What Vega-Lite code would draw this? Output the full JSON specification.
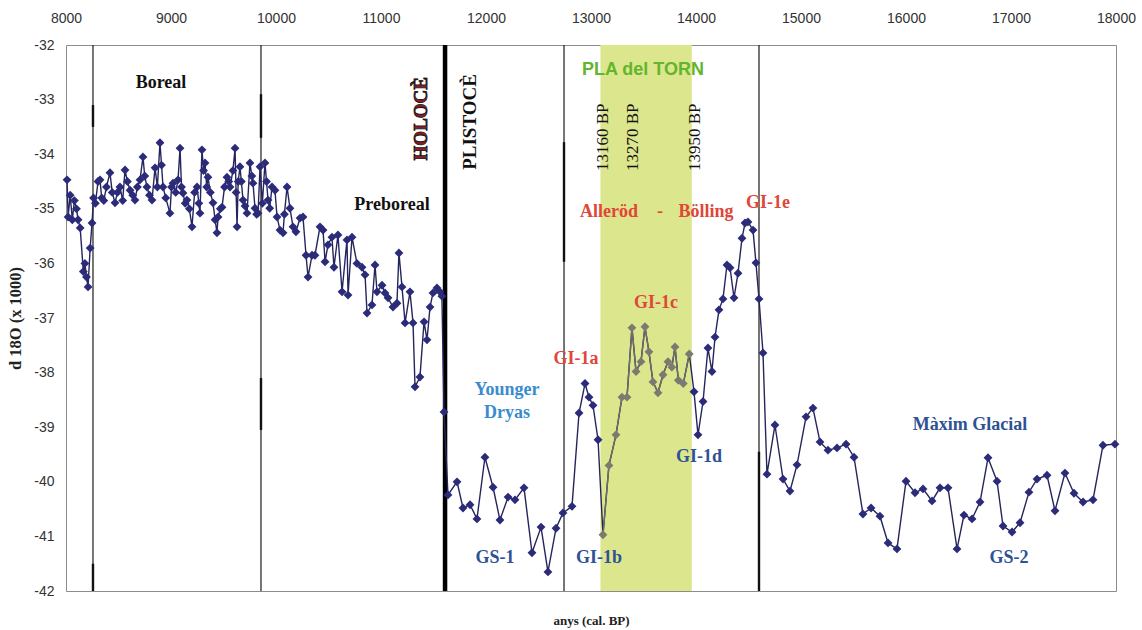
{
  "$schema": "https://vega.github.io/schema/vega-lite/v6.json",
  "width": 1050,
  "height": 546,
  "autosize": {"type": "none"},
  "padding": {"left": 66, "top": 45, "right": 26, "bottom": 39},
  "background": "white",
  "config": {
    "view": {"stroke": "#8c8c8c", "strokeWidth": 1},
    "axis": {
      "labelFont": "Liberation Sans", "labelFontSize": 14, "labelColor": "#333",
      "ticks": false, "tickSize": 0, "domain": false, "grid": false,
      "titleFont": "Liberation Serif", "titleFontWeight": "bold", "titleColor": "#222",
      "labelExpr": "toString(datum.value)"
    },
    "axisX": {"labelPadding": 20, "labelFlush": false, "labelOverlap": false, "titleFontSize": 13},
    "axisY": {"labelPadding": 12, "titleFontSize": 16.5}
  },
  "datasets": {
    "series": [
      {"year":8010,"v":-34.47,"z":"n"},{"year":8020,"v":-35.15,"z":"n"},{"year":8040,"v":-34.75,"z":"n"},{"year":8060,"v":-35.2,"z":"n"},
      {"year":8080,"v":-34.85,"z":"n"},{"year":8100,"v":-35.0,"z":"n"},{"year":8115,"v":-35.2,"z":"n"},{"year":8135,"v":-35.35,"z":"n"},
      {"year":8165,"v":-36.15,"z":"n"},{"year":8180,"v":-36.0,"z":"n"},{"year":8195,"v":-36.25,"z":"n"},{"year":8210,"v":-36.43,"z":"n"},
      {"year":8230,"v":-35.72,"z":"n"},{"year":8248,"v":-35.26,"z":"n"},{"year":8262,"v":-34.8,"z":"n"},{"year":8280,"v":-34.9,"z":"n"},
      {"year":8305,"v":-34.5,"z":"n"},{"year":8324,"v":-34.47,"z":"n"},{"year":8340,"v":-34.8,"z":"n"},{"year":8360,"v":-34.85,"z":"n"},
      {"year":8385,"v":-34.6,"z":"n"},{"year":8419,"v":-34.34,"z":"n"},{"year":8440,"v":-34.7,"z":"n"},{"year":8467,"v":-34.89,"z":"n"},
      {"year":8490,"v":-34.7,"z":"n"},{"year":8514,"v":-34.6,"z":"n"},{"year":8540,"v":-34.85,"z":"n"},{"year":8562,"v":-34.29,"z":"n"},
      {"year":8585,"v":-34.5,"z":"n"},{"year":8610,"v":-34.66,"z":"n"},{"year":8635,"v":-34.75,"z":"n"},{"year":8657,"v":-34.84,"z":"n"},
      {"year":8680,"v":-34.6,"z":"n"},{"year":8705,"v":-34.47,"z":"n"},{"year":8733,"v":-34.05,"z":"n"},{"year":8750,"v":-34.4,"z":"n"},
      {"year":8771,"v":-34.6,"z":"n"},{"year":8795,"v":-34.75,"z":"n"},{"year":8819,"v":-34.84,"z":"n"},{"year":8848,"v":-34.25,"z":"n"},
      {"year":8870,"v":-34.6,"z":"n"},{"year":8895,"v":-33.79,"z":"n"},{"year":8910,"v":-34.2,"z":"n"},{"year":8924,"v":-34.6,"z":"n"},
      {"year":8950,"v":-34.8,"z":"n"},{"year":8990,"v":-35.08,"z":"n"},{"year":9005,"v":-34.6,"z":"n"},{"year":9019,"v":-34.53,"z":"n"},
      {"year":9045,"v":-34.7,"z":"n"},{"year":9067,"v":-34.47,"z":"n"},{"year":9086,"v":-33.89,"z":"n"},{"year":9100,"v":-34.6,"z":"n"},
      {"year":9114,"v":-34.71,"z":"n"},{"year":9135,"v":-34.9,"z":"n"},{"year":9152,"v":-34.84,"z":"n"},{"year":9175,"v":-35.0,"z":"n"},
      {"year":9200,"v":-35.33,"z":"n"},{"year":9225,"v":-34.7,"z":"n"},{"year":9248,"v":-34.6,"z":"n"},{"year":9265,"v":-34.9,"z":"n"},
      {"year":9276,"v":-35.08,"z":"n"},{"year":9295,"v":-33.92,"z":"n"},{"year":9310,"v":-34.3,"z":"n"},{"year":9324,"v":-34.16,"z":"n"},
      {"year":9340,"v":-34.6,"z":"n"},{"year":9352,"v":-34.42,"z":"n"},{"year":9375,"v":-34.7,"z":"n"},{"year":9400,"v":-34.89,"z":"n"},
      {"year":9420,"v":-35.2,"z":"n"},{"year":9438,"v":-35.44,"z":"n"},{"year":9448,"v":-35.15,"z":"n"},{"year":9470,"v":-35.0,"z":"n"},
      {"year":9486,"v":-34.97,"z":"n"},{"year":9510,"v":-34.6,"z":"n"},{"year":9533,"v":-34.42,"z":"n"},{"year":9550,"v":-34.5,"z":"n"},
      {"year":9562,"v":-34.6,"z":"n"},{"year":9590,"v":-34.3,"z":"n"},{"year":9610,"v":-33.89,"z":"n"},{"year":9620,"v":-34.7,"z":"n"},
      {"year":9629,"v":-35.33,"z":"n"},{"year":9640,"v":-34.5,"z":"n"},{"year":9657,"v":-34.23,"z":"n"},{"year":9670,"v":-34.5,"z":"n"},
      {"year":9686,"v":-34.84,"z":"n"},{"year":9705,"v":-34.95,"z":"n"},{"year":9724,"v":-35.08,"z":"n"},{"year":9752,"v":-34.16,"z":"n"},
      {"year":9770,"v":-34.4,"z":"n"},{"year":9781,"v":-34.53,"z":"n"},{"year":9800,"v":-34.99,"z":"n"},{"year":9815,"v":-35.1,"z":"n"},
      {"year":9829,"v":-35.08,"z":"n"},{"year":9848,"v":-34.23,"z":"n"},{"year":9870,"v":-34.9,"z":"n"},{"year":9895,"v":-34.16,"z":"n"},
      {"year":9910,"v":-34.5,"z":"n"},{"year":9924,"v":-34.84,"z":"n"},{"year":9940,"v":-34.99,"z":"n"},{"year":9962,"v":-34.6,"z":"n"},
      {"year":9990,"v":-34.66,"z":"n"},{"year":10010,"v":-35.15,"z":"n"},{"year":10038,"v":-35.39,"z":"n"},{"year":10067,"v":-35.44,"z":"n"},
      {"year":10080,"v":-35.1,"z":"n"},{"year":10105,"v":-34.6,"z":"n"},{"year":10133,"v":-34.99,"z":"n"},{"year":10162,"v":-35.33,"z":"n"},
      {"year":10190,"v":-35.42,"z":"n"},{"year":10229,"v":-35.17,"z":"n"},{"year":10257,"v":-35.15,"z":"n"},{"year":10286,"v":-35.85,"z":"n"},
      {"year":10305,"v":-36.25,"z":"n"},{"year":10343,"v":-35.85,"z":"n"},{"year":10371,"v":-35.85,"z":"n"},{"year":10419,"v":-35.33,"z":"n"},
      {"year":10448,"v":-35.39,"z":"n"},{"year":10467,"v":-35.97,"z":"n"},{"year":10495,"v":-35.66,"z":"n"},{"year":10533,"v":-35.52,"z":"n"},
      {"year":10552,"v":-36.07,"z":"n"},{"year":10590,"v":-35.48,"z":"n"},{"year":10629,"v":-36.52,"z":"n"},{"year":10676,"v":-35.57,"z":"n"},
      {"year":10686,"v":-36.58,"z":"n"},{"year":10724,"v":-35.52,"z":"n"},{"year":10771,"v":-36.0,"z":"n"},{"year":10819,"v":-36.07,"z":"n"},
      {"year":10848,"v":-36.21,"z":"n"},{"year":10867,"v":-36.91,"z":"n"},{"year":10914,"v":-36.76,"z":"n"},{"year":10943,"v":-36.03,"z":"n"},
      {"year":10962,"v":-36.52,"z":"n"},{"year":11010,"v":-36.4,"z":"n"},{"year":11038,"v":-36.54,"z":"n"},{"year":11067,"v":-36.63,"z":"n"},
      {"year":11114,"v":-36.8,"z":"n"},{"year":11152,"v":-36.73,"z":"n"},{"year":11171,"v":-35.81,"z":"n"},{"year":11200,"v":-36.43,"z":"n"},
      {"year":11229,"v":-37.09,"z":"n"},{"year":11276,"v":-36.52,"z":"n"},{"year":11305,"v":-37.09,"z":"n"},{"year":11324,"v":-38.26,"z":"n"},
      {"year":11371,"v":-38.08,"z":"n"},{"year":11410,"v":-37.07,"z":"n"},{"year":11438,"v":-37.4,"z":"n"},{"year":11467,"v":-36.8,"z":"n"},
      {"year":11495,"v":-36.54,"z":"n"},{"year":11533,"v":-36.45,"z":"n"},{"year":11562,"v":-36.52,"z":"n"},{"year":11580,"v":-36.6,"z":"n"},
      {"year":11600,"v":-38.72,"z":"n"},{"year":11638,"v":-40.24,"z":"n"},{"year":11724,"v":-40.0,"z":"n"},{"year":11781,"v":-40.48,"z":"n"},
      {"year":11848,"v":-40.42,"z":"n"},{"year":11914,"v":-40.68,"z":"n"},{"year":11990,"v":-39.55,"z":"n"},{"year":12067,"v":-40.1,"z":"n"},
      {"year":12133,"v":-40.7,"z":"n"},{"year":12210,"v":-40.28,"z":"n"},{"year":12276,"v":-40.33,"z":"n"},{"year":12362,"v":-40.11,"z":"n"},
      {"year":12438,"v":-41.3,"z":"n"},{"year":12524,"v":-40.83,"z":"n"},{"year":12590,"v":-41.65,"z":"n"},{"year":12667,"v":-40.85,"z":"n"},
      {"year":12733,"v":-40.57,"z":"n"},{"year":12819,"v":-40.45,"z":"n"},{"year":12886,"v":-38.74,"z":"n"},{"year":12943,"v":-38.2,"z":"n"},
      {"year":12981,"v":-38.45,"z":"n"},{"year":13019,"v":-38.6,"z":"n"},{"year":13067,"v":-39.23,"z":"n"},{"year":13114,"v":-40.97,"z":"b"},
      {"year":13171,"v":-39.7,"z":"b"},{"year":13238,"v":-39.14,"z":"b"},{"year":13295,"v":-38.45,"z":"b"},{"year":13343,"v":-38.45,"z":"b"},
      {"year":13390,"v":-37.18,"z":"b"},{"year":13429,"v":-37.98,"z":"b"},{"year":13476,"v":-37.8,"z":"b"},{"year":13514,"v":-37.16,"z":"b"},
      {"year":13552,"v":-37.62,"z":"b"},{"year":13590,"v":-38.17,"z":"b"},{"year":13638,"v":-38.37,"z":"b"},{"year":13686,"v":-38.04,"z":"b"},
      {"year":13733,"v":-37.8,"z":"b"},{"year":13770,"v":-37.9,"z":"b"},{"year":13800,"v":-37.53,"z":"b"},{"year":13832,"v":-38.14,"z":"b"},
      {"year":13879,"v":-38.2,"z":"b"},{"year":13936,"v":-37.66,"z":"b"},{"year":13981,"v":-38.35,"z":"n"},{"year":14019,"v":-39.14,"z":"n"},
      {"year":14067,"v":-38.53,"z":"n"},{"year":14114,"v":-37.55,"z":"n"},{"year":14152,"v":-37.98,"z":"n"},{"year":14181,"v":-37.35,"z":"n"},
      {"year":14219,"v":-36.85,"z":"n"},{"year":14257,"v":-36.65,"z":"n"},{"year":14295,"v":-36.03,"z":"n"},{"year":14324,"v":-36.08,"z":"n"},
      {"year":14362,"v":-36.63,"z":"n"},{"year":14400,"v":-36.18,"z":"n"},{"year":14438,"v":-35.54,"z":"n"},{"year":14467,"v":-35.26,"z":"n"},
      {"year":14495,"v":-35.24,"z":"n"},{"year":14543,"v":-35.39,"z":"n"},{"year":14571,"v":-35.99,"z":"n"},{"year":14600,"v":-36.65,"z":"n"},
      {"year":14638,"v":-37.64,"z":"n"},{"year":14676,"v":-39.86,"z":"n"},{"year":14752,"v":-38.96,"z":"n"},{"year":14829,"v":-39.95,"z":"n"},
      {"year":14895,"v":-40.17,"z":"n"},{"year":14962,"v":-39.69,"z":"n"},{"year":15048,"v":-38.81,"z":"n"},{"year":15114,"v":-38.65,"z":"n"},
      {"year":15181,"v":-39.27,"z":"n"},{"year":15257,"v":-39.42,"z":"n"},{"year":15343,"v":-39.38,"z":"n"},{"year":15429,"v":-39.31,"z":"n"},
      {"year":15505,"v":-39.55,"z":"n"},{"year":15590,"v":-40.59,"z":"n"},{"year":15667,"v":-40.48,"z":"n"},{"year":15752,"v":-40.63,"z":"n"},
      {"year":15829,"v":-41.12,"z":"n"},{"year":15914,"v":-41.23,"z":"n"},{"year":16000,"v":-39.99,"z":"n"},{"year":16086,"v":-40.2,"z":"n"},
      {"year":16162,"v":-40.13,"z":"n"},{"year":16248,"v":-40.35,"z":"n"},{"year":16324,"v":-40.11,"z":"n"},{"year":16400,"v":-40.11,"z":"n"},
      {"year":16486,"v":-41.23,"z":"n"},{"year":16552,"v":-40.61,"z":"n"},{"year":16629,"v":-40.68,"z":"n"},{"year":16705,"v":-40.37,"z":"n"},
      {"year":16781,"v":-39.56,"z":"n"},{"year":16867,"v":-39.99,"z":"n"},{"year":16924,"v":-40.81,"z":"n"},{"year":17010,"v":-40.92,"z":"n"},
      {"year":17086,"v":-40.75,"z":"n"},{"year":17171,"v":-40.19,"z":"n"},{"year":17248,"v":-39.95,"z":"n"},{"year":17343,"v":-39.88,"z":"n"},
      {"year":17419,"v":-40.53,"z":"n"},{"year":17514,"v":-39.84,"z":"n"},{"year":17600,"v":-40.21,"z":"n"},{"year":17686,"v":-40.37,"z":"n"},
      {"year":17781,"v":-40.33,"z":"n"},{"year":17876,"v":-39.33,"z":"n"},{"year":17990,"v":-39.31,"z":"n"}
    ]
  },
  "layer": [
    {
      "data": {"values": [{"year": 13090, "year2": 13960}]},
      "mark": {"type": "rect", "color": "#dce68c", "opacity": 1},
      "encoding": {
        "x": {"field": "year", "type": "quantitative", "title": "anys (cal. BP)", "scale": {"domain": [8000, 18000], "nice": false, "zero": false}},
        "x2": {"field": "year2"}
      }
    },
    {
      "data": {"values": [{"year": 8257}, {"year": 9857}, {"year": 12743}, {"year": 14600}]},
      "mark": {"type": "rule", "color": "#1a1a1a", "strokeWidth": 1.2},
      "encoding": {
        "x": {"field": "year", "type": "quantitative", "title": "anys (cal. BP)"}
      }
    },
    {
      "data": {"values": [
        {"year": 8257, "v": -33.1, "v2": -33.5},
        {"year": 8257, "v": -41.5, "v2": -42},
        {"year": 9857, "v": -32.9, "v2": -33.7},
        {"year": 9857, "v": -38.1, "v2": -39.05},
        {"year": 12743, "v": -33.78, "v2": -35.97},
        {"year": 14600, "v": -39.45, "v2": -42}
      ]},
      "mark": {"type": "rule", "color": "#111", "strokeWidth": 2.4},
      "encoding": {
        "x": {"field": "year", "type": "quantitative", "title": "anys (cal. BP)"},
        "y": {"field": "v", "type": "quantitative", "title": "d 18O (x 1000)"},
        "y2": {"field": "v2"}
      }
    },
    {
      "data": {"values": [{"year": 11610}]},
      "mark": {"type": "rule", "color": "#000", "strokeWidth": 4.5},
      "encoding": {
        "x": {"field": "year", "type": "quantitative", "title": "anys (cal. BP)"}
      }
    },
    {
      "data": {"name": "series"},
      "mark": {"type": "line", "color": "#25255e", "strokeWidth": 1.4},
      "encoding": {
        "x": {
          "field": "year", "type": "quantitative", "title": "anys (cal. BP)",
          "axis": {
            "orient": "top", "values": [8000,9000,10000,11000,12000,13000,14000,15000,16000,17000,18000],
            "titleX": 525, "titleY": 575, "titleAlign": "center", "titleBaseline": "middle"
          }
        },
        "y": {
          "field": "v", "type": "quantitative", "title": "d 18O (x 1000)",
          "scale": {"domain": [-42, -32], "nice": false, "zero": false},
          "axis": {
            "values": [-42,-41,-40,-39,-38,-37,-36,-35,-34,-33,-32],
            "titleX": -51, "titleY": 273, "titleAngle": -90, "titleAlign": "center", "titleBaseline": "middle"
          }
        }
      }
    },
    {
      "data": {"name": "series"},
      "transform": [{"filter": {"field": "z", "equal": "b"}}],
      "mark": {"type": "line", "color": "#6e6e66", "strokeWidth": 1.4},
      "encoding": {
        "x": {"field": "year", "type": "quantitative", "title": "anys (cal. BP)"},
        "y": {"field": "v", "type": "quantitative", "title": "d 18O (x 1000)"}
      }
    },
    {
      "data": {"name": "series"},
      "mark": {"type": "point", "shape": "diamond", "filled": true, "size": 78, "opacity": 1},
      "encoding": {
        "x": {"field": "year", "type": "quantitative", "title": "anys (cal. BP)"},
        "y": {"field": "v", "type": "quantitative", "title": "d 18O (x 1000)"},
        "color": {"field": "z", "type": "nominal", "scale": {"domain": ["n", "b"], "range": ["#2b2b7a", "#7a7a70"]}, "legend": null}
      }
    },
    {
      "data": {"values": [
        {"t": "Boreal", "year": 8905, "v": -32.7},
        {"t": "Preboreal", "year": 11105, "v": -34.93}
      ]},
      "mark": {"type": "text", "font": "Liberation Serif", "fontWeight": "bold", "fontSize": 18, "color": "#111", "align": "center", "baseline": "middle"},
      "encoding": {
        "x": {"field": "year", "type": "quantitative", "title": "anys (cal. BP)"},
        "y": {"field": "v", "type": "quantitative", "title": "d 18O (x 1000)"},
        "text": {"field": "t"}
      }
    },
    {
      "data": {"values": [{"t": "HOLOCÈ", "year": 11381, "v": -33.35}]},
      "mark": {"type": "text", "font": "Liberation Serif", "fontWeight": "bold", "fontSize": 19, "color": "#8b1c24", "stroke": "#111", "strokeWidth": 0.8, "angle": 270, "align": "center", "baseline": "middle"},
      "encoding": {
        "x": {"field": "year", "type": "quantitative", "title": "anys (cal. BP)"},
        "y": {"field": "v", "type": "quantitative", "title": "d 18O (x 1000)"},
        "text": {"field": "t"}
      }
    },
    {
      "data": {"values": [{"t": "PLISTOCÈ", "year": 11848, "v": -33.41}]},
      "mark": {"type": "text", "font": "Liberation Serif", "fontWeight": "bold", "fontSize": 19, "color": "#111", "angle": 270, "align": "center", "baseline": "middle"},
      "encoding": {
        "x": {"field": "year", "type": "quantitative", "title": "anys (cal. BP)"},
        "y": {"field": "v", "type": "quantitative", "title": "d 18O (x 1000)"},
        "text": {"field": "t"}
      }
    },
    {
      "data": {"values": [{"t": "PLA del TORN", "year": 13495, "v": -32.46}]},
      "mark": {"type": "text", "font": "Liberation Sans", "fontWeight": "bold", "fontSize": 18, "color": "#62b52c", "align": "center", "baseline": "middle"},
      "encoding": {
        "x": {"field": "year", "type": "quantitative", "title": "anys (cal. BP)"},
        "y": {"field": "v", "type": "quantitative", "title": "d 18O (x 1000)"},
        "text": {"field": "t"}
      }
    },
    {
      "data": {"values": [
        {"t": "13160 BP", "year": 13114, "v": -33.69},
        {"t": "13270 BP", "year": 13400, "v": -33.69},
        {"t": "13950 BP", "year": 13990, "v": -33.69}
      ]},
      "mark": {"type": "text", "font": "Liberation Serif", "fontSize": 17, "color": "#111", "angle": 270, "align": "center", "baseline": "middle"},
      "encoding": {
        "x": {"field": "year", "type": "quantitative", "title": "anys (cal. BP)"},
        "y": {"field": "v", "type": "quantitative", "title": "d 18O (x 1000)"},
        "text": {"field": "t"}
      }
    },
    {
      "data": {"values": [
        {"t": "Alleröd", "year": 13171, "v": -35.06},
        {"t": "-", "year": 13657, "v": -35.06},
        {"t": "Bölling", "year": 14095, "v": -35.06},
        {"t": "GI-1e", "year": 14686, "v": -34.89},
        {"t": "GI-1c", "year": 13619, "v": -36.73},
        {"t": "GI-1a", "year": 12857, "v": -37.75}
      ]},
      "mark": {"type": "text", "font": "Liberation Serif", "fontWeight": "bold", "fontSize": 18, "color": "#e0463a", "align": "center", "baseline": "middle"},
      "encoding": {
        "x": {"field": "year", "type": "quantitative", "title": "anys (cal. BP)"},
        "y": {"field": "v", "type": "quantitative", "title": "d 18O (x 1000)"},
        "text": {"field": "t"}
      }
    },
    {
      "data": {"values": [
        {"t": "Younger", "year": 12200, "v": -38.32},
        {"t": "Dryas", "year": 12200, "v": -38.74}
      ]},
      "mark": {"type": "text", "font": "Liberation Serif", "fontWeight": "bold", "fontSize": 18, "color": "#3a8ccc", "align": "center", "baseline": "middle"},
      "encoding": {
        "x": {"field": "year", "type": "quantitative", "title": "anys (cal. BP)"},
        "y": {"field": "v", "type": "quantitative", "title": "d 18O (x 1000)"},
        "text": {"field": "t"}
      }
    },
    {
      "data": {"values": [
        {"t": "GS-1", "year": 12086, "v": -41.4},
        {"t": "GI-1b", "year": 13076, "v": -41.4},
        {"t": "GI-1d", "year": 14029, "v": -39.55},
        {"t": "Màxim Glacial", "year": 16610, "v": -38.96},
        {"t": "GS-2", "year": 16981, "v": -41.4}
      ]},
      "mark": {"type": "text", "font": "Liberation Serif", "fontWeight": "bold", "fontSize": 18, "color": "#2e5294", "align": "center", "baseline": "middle"},
      "encoding": {
        "x": {"field": "year", "type": "quantitative", "title": "anys (cal. BP)"},
        "y": {"field": "v", "type": "quantitative", "title": "d 18O (x 1000)"},
        "text": {"field": "t"}
      }
    }
  ]
}
